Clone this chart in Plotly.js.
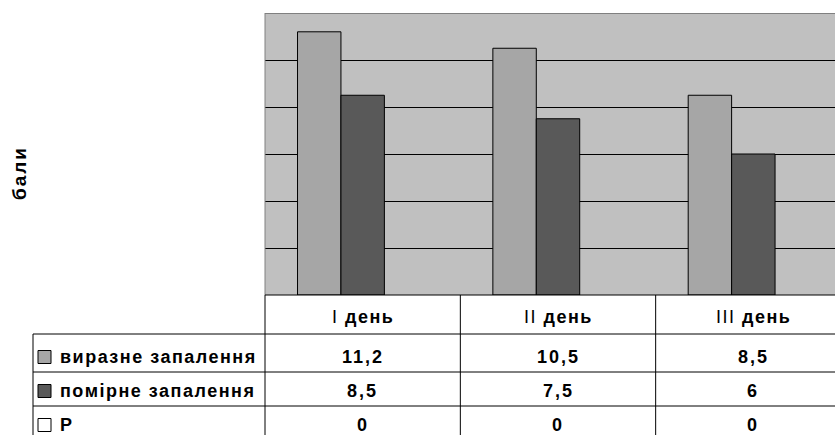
<!DOCTYPE html>
<html>
<head>
<meta charset="utf-8">
<script src="https://cdn.plot.ly/plotly-3.0.1.min.js"></script>
<style>
html, body { margin: 0; padding: 0; overflow: hidden; background: #fff; }
#chart { width: 860px; height: 435px; }
</style>
</head>
<body>
<div id="chart"></div>
<script>
// ---- data ----
const categories = ['I день', 'II день', 'III день'];
const seriesNames = ['виразне запалення', 'помірне запалення', 'P'];
const vyrazne = [11.2, 10.5, 8.5];
const pomirne = [8.5, 7.5, 6];
const pValues = [0, 0, 0];
const yAxisTitle = 'бали';

const seriesValues = [vyrazne, pomirne, pValues];
const seriesColors = ['#A6A6A6', '#595959', '#FFFFFF'];

// ---- pixel helpers (plot area: x 265..851, y 13..295) ----
const L = 265, R = 851, T = 13, B = 295;
const px = x => (x - L) / (R - L);
const py = y => (B - y) / (B - T);

const FONT = 'Liberation Sans, Arial, sans-serif';
const sp = (t, s) => '<span style="letter-spacing:' + s + 'px">' + t + '</span>';

const traces = seriesValues.map((vals, i) => ({
  type: 'bar',
  name: seriesNames[i],
  x: categories,
  y: vals,
  marker: { color: seriesColors[i], line: { color: '#000', width: i < 2 ? 1 : 0 } },
  hoverinfo: 'skip'
}));

const shapes = [];
const line = (x0, y0, x1, y1, color) => shapes.push({
  type: 'line', xref: 'paper', yref: 'paper',
  x0: px(x0), y0: py(y0), x1: px(x1), y1: py(y1),
  line: { color: color || '#000', width: 1 }
});

// plot borders
line(265, 13.5, 860, 13.5, '#808080');
line(265, 13, 265, 295, '#808080');
// table
line(265, 295, 860, 295);
const rowLines = [334, 372, 406];
rowLines.forEach(y => line(33, y, 860, y));
line(33, 334, 33, 440);
line(265, 295, 265, 440);
[0.5, 1.5].forEach(c => shapes.push({
  type: 'line', xref: 'x', yref: 'paper', x0: c, x1: c, y0: py(295), y1: py(440),
  line: { color: '#000', width: 1 }
}));

const rowCenters = [357, 391, 425];
const annotations = [];

// y title
annotations.push({
  xref: 'paper', yref: 'paper', x: px(20), y: py(173),
  text: '<b>' + sp(yAxisTitle, 2) + '</b>', textangle: -90, showarrow: false,
  font: { family: FONT, size: 19, color: '#000' }, xanchor: 'center', yanchor: 'middle'
});

// header
categories.forEach((c, i) => {
  const parts = c.split(' ');
  annotations.push({
    xref: 'x', yref: 'paper', x: i, y: py(317),
    text: sp(parts[0] + ' <b>' + parts.slice(1).join(' ') + '</b>', 1.5),
    showarrow: false, xanchor: 'center', yanchor: 'middle',
    font: { family: FONT, size: 18, color: '#000' }
  });
});

// rows
seriesValues.forEach((vals, r) => {
  shapes.push({
    type: 'rect', xref: 'paper', yref: 'paper',
    x0: px(38), x1: px(51), y0: py(rowCenters[r] - 6.5), y1: py(rowCenters[r] + 6.5),
    fillcolor: seriesColors[r], line: { color: '#000', width: 1 }
  });
  annotations.push({
    xref: 'paper', yref: 'paper', x: px(58), y: py(rowCenters[r]),
    text: '<b>' + sp(seriesNames[r], 1.5) + '</b>', showarrow: false,
    xanchor: 'left', yanchor: 'middle',
    font: { family: FONT, size: 18, color: '#000' }
  });
  vals.forEach((v, i) => {
    annotations.push({
      xref: 'x', yref: 'paper', x: i, y: py(rowCenters[r]),
      text: '<b>' + sp(String(v).replace('.', ','), 2) + '</b>', showarrow: false,
      xanchor: 'center', yanchor: 'middle',
      font: { family: FONT, size: 18, color: '#000' }
    });
  });
});

const layout = {
  width: 860, height: 435,
  margin: { l: L, r: 860 - R, t: T, b: 435 - B, pad: 0 },
  paper_bgcolor: '#FFFFFF',
  plot_bgcolor: '#C0C0C0',
  barmode: 'group',
  bargap: 0.333,
  bargroupgap: 0,
  showlegend: false,
  xaxis: {
    type: 'category', range: [-0.5, 2.5], showticklabels: false, ticks: '',
    showgrid: false, zeroline: false, showline: false, fixedrange: true
  },
  yaxis: {
    range: [0, 12], dtick: 2, showticklabels: false, ticks: '',
    showgrid: true, gridcolor: '#000', gridwidth: 1, zeroline: false,
    showline: false, fixedrange: true
  },
  shapes: shapes,
  annotations: annotations,
  font: { family: FONT }
};

Plotly.newPlot('chart', traces, layout, { displayModeBar: false, staticPlot: true });
</script>
</body>
</html>
